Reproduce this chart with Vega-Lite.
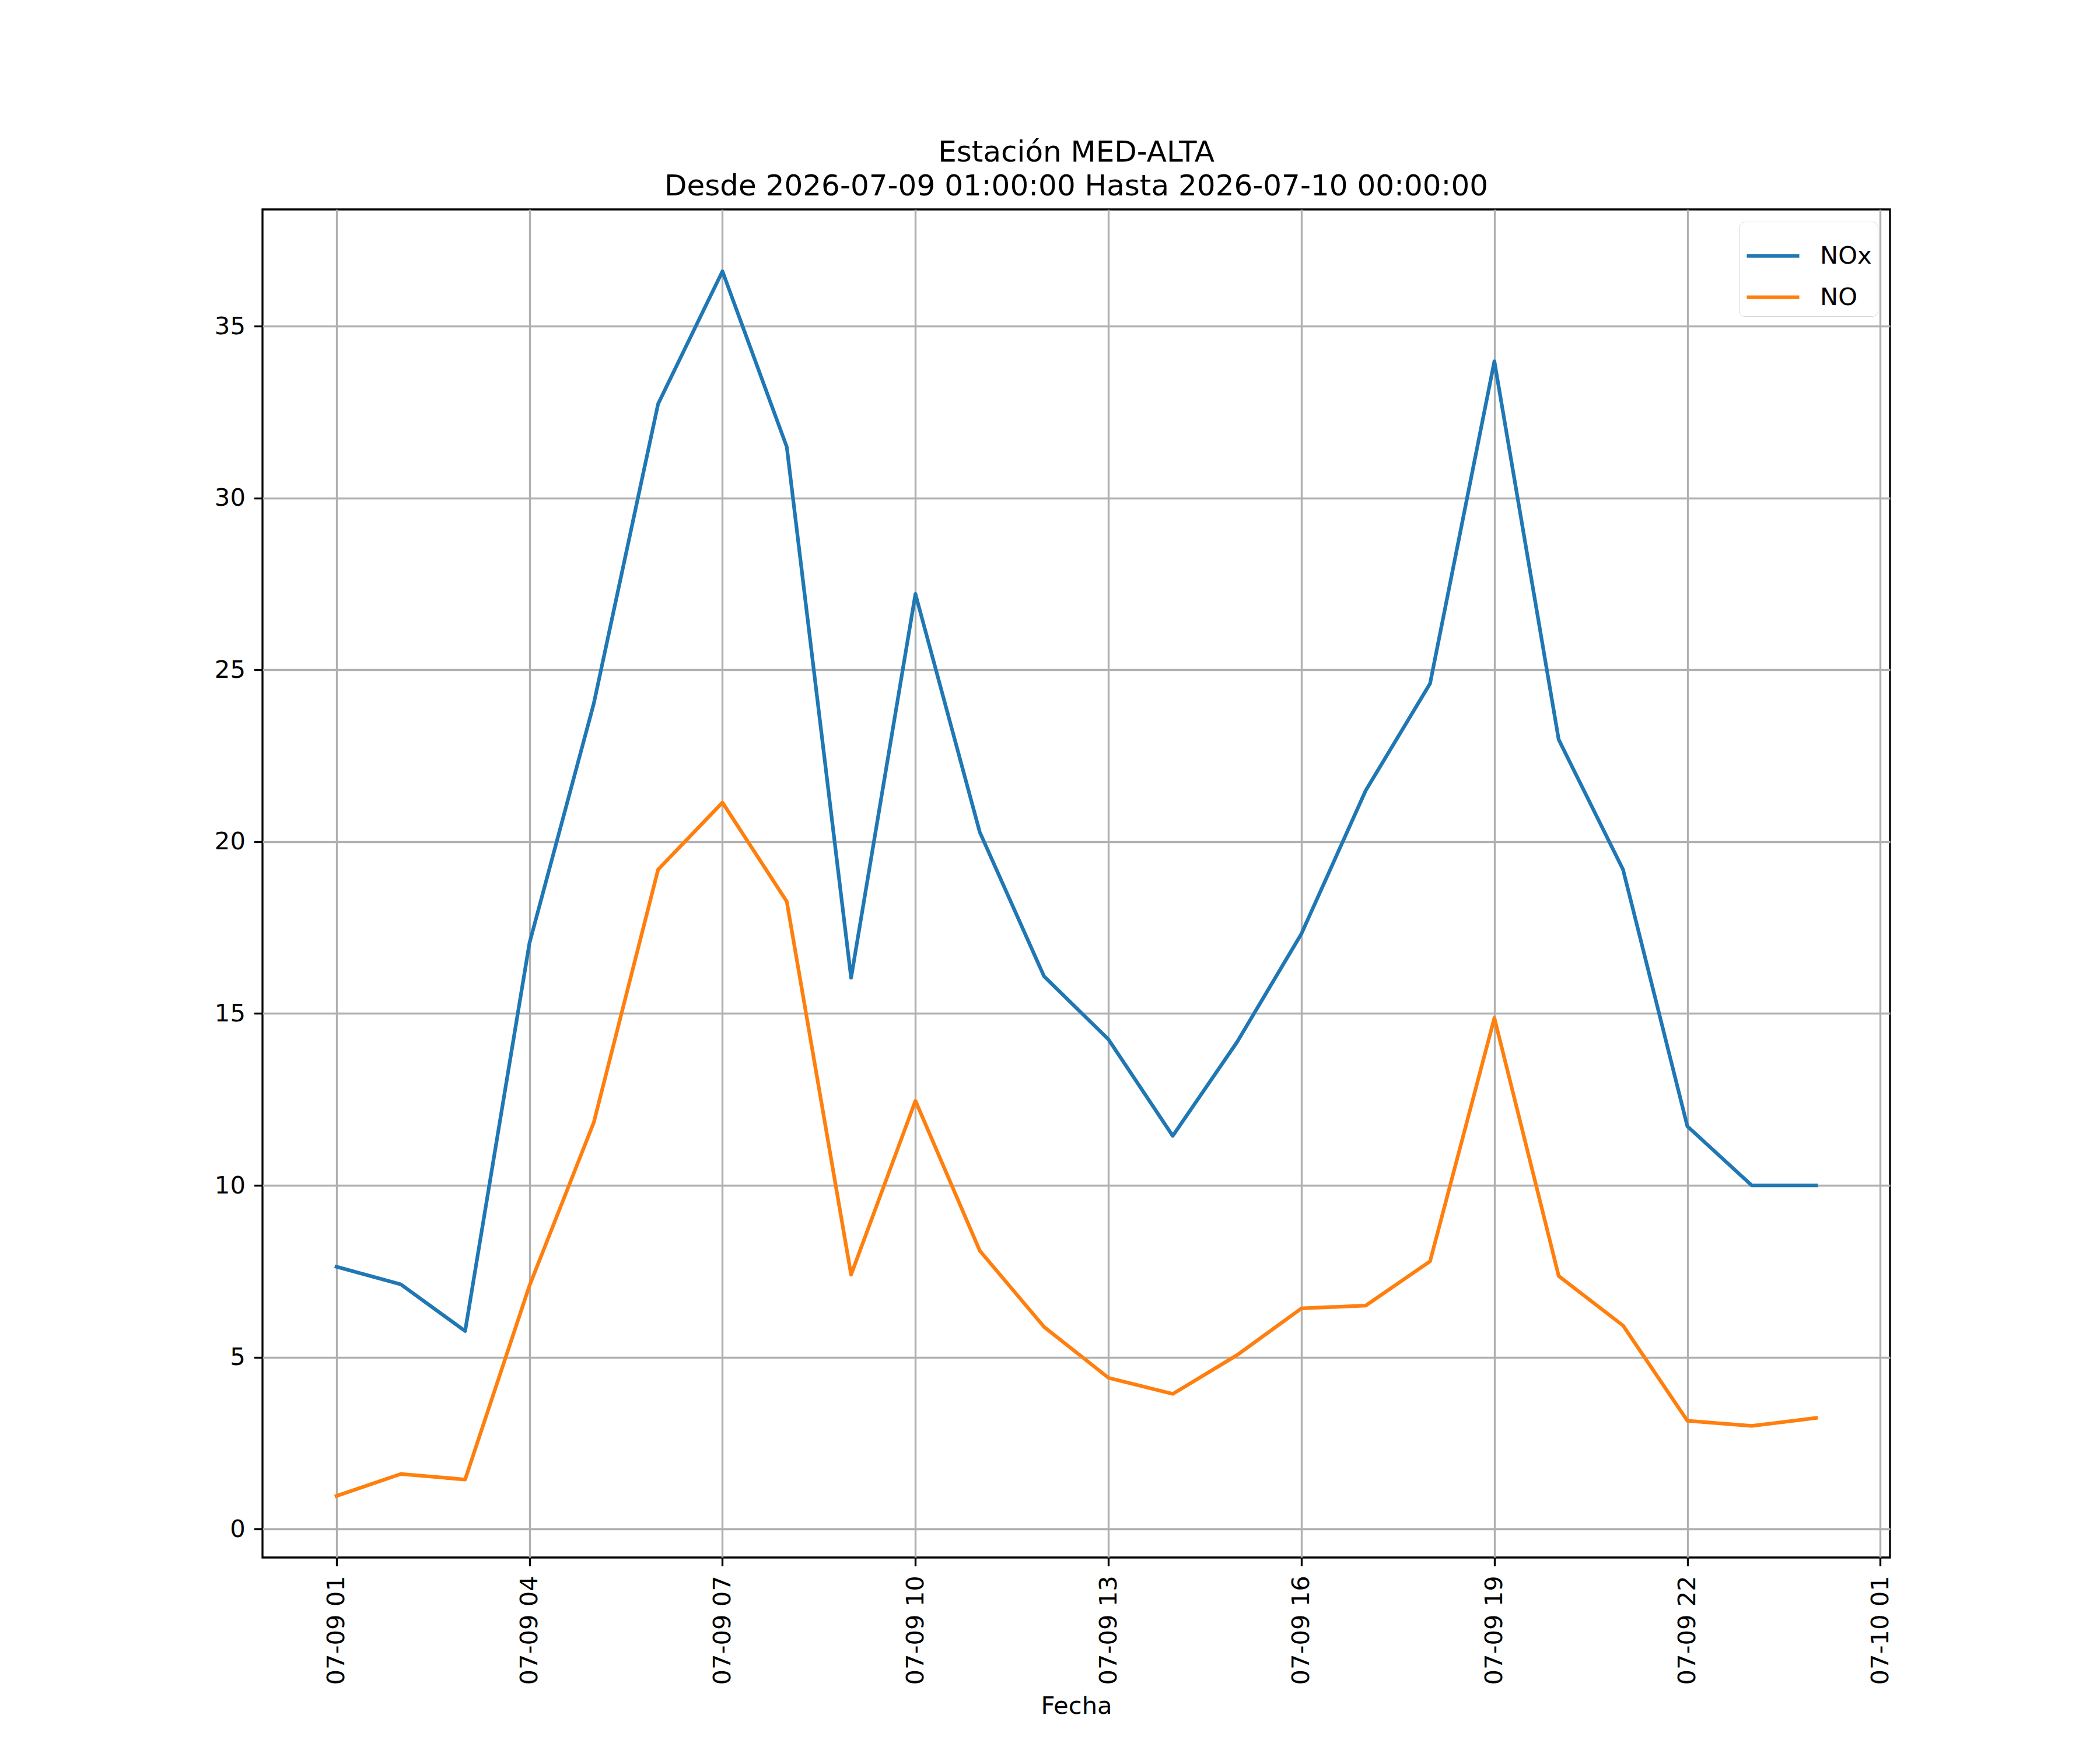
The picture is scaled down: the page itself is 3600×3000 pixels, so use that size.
{
  "$schema": "https://vega.github.io/schema/vega-lite/v6.json",
  "autosize": {"type": "none"},
  "width": 2790,
  "height": 2311,
  "padding": {"left": 450, "top": 359, "right": 360, "bottom": 330},
  "background": "white",
  "config": {
    "font": "DejaVu Sans",
    "view": {"stroke": "#000000", "strokeWidth": 3.33},
    "axis": {
      "domain": false,
      "grid": true,
      "gridColor": "#b0b0b0",
      "gridWidth": 3.33,
      "tickColor": "#000000",
      "tickWidth": 3.33,
      "tickSize": 14.6,
      "labelFont": "DejaVu Sans",
      "labelFontSize": 41.7,
      "labelColor": "#000000",
      "labelLimit": 0,
      "titleFont": "DejaVu Sans",
      "titleFontSize": 41.7,
      "titleFontWeight": "normal",
      "titleColor": "#000000"
    }
  },
  "title": {
    "text": ["Estación MED-ALTA", "Desde 2026-07-09 01:00:00 Hasta 2026-07-10 00:00:00"],
    "fontSize": 50,
    "fontWeight": "normal",
    "font": "DejaVu Sans",
    "color": "#000000",
    "anchor": "middle",
    "lineHeight": 58,
    "offset": 14
  },
  "data": {
    "values": [
      {"fecha": "2026-07-09T01:00:00", "serie": "NOx", "valor": 7.63},
      {"fecha": "2026-07-09T02:00:00", "serie": "NOx", "valor": 7.12},
      {"fecha": "2026-07-09T03:00:00", "serie": "NOx", "valor": 5.76},
      {"fecha": "2026-07-09T04:00:00", "serie": "NOx", "valor": 17.05},
      {"fecha": "2026-07-09T05:00:00", "serie": "NOx", "valor": 24.02},
      {"fecha": "2026-07-09T06:00:00", "serie": "NOx", "valor": 32.74},
      {"fecha": "2026-07-09T07:00:00", "serie": "NOx", "valor": 36.6},
      {"fecha": "2026-07-09T08:00:00", "serie": "NOx", "valor": 31.49},
      {"fecha": "2026-07-09T09:00:00", "serie": "NOx", "valor": 16.04},
      {"fecha": "2026-07-09T10:00:00", "serie": "NOx", "valor": 27.21},
      {"fecha": "2026-07-09T11:00:00", "serie": "NOx", "valor": 20.28},
      {"fecha": "2026-07-09T12:00:00", "serie": "NOx", "valor": 16.08},
      {"fecha": "2026-07-09T13:00:00", "serie": "NOx", "valor": 14.25},
      {"fecha": "2026-07-09T14:00:00", "serie": "NOx", "valor": 11.44},
      {"fecha": "2026-07-09T15:00:00", "serie": "NOx", "valor": 14.17},
      {"fecha": "2026-07-09T16:00:00", "serie": "NOx", "valor": 17.32},
      {"fecha": "2026-07-09T17:00:00", "serie": "NOx", "valor": 21.49},
      {"fecha": "2026-07-09T18:00:00", "serie": "NOx", "valor": 24.6},
      {"fecha": "2026-07-09T19:00:00", "serie": "NOx", "valor": 33.98},
      {"fecha": "2026-07-09T20:00:00", "serie": "NOx", "valor": 22.97},
      {"fecha": "2026-07-09T21:00:00", "serie": "NOx", "valor": 19.19},
      {"fecha": "2026-07-09T22:00:00", "serie": "NOx", "valor": 11.72},
      {"fecha": "2026-07-09T23:00:00", "serie": "NOx", "valor": 10.0},
      {"fecha": "2026-07-10T00:00:00", "serie": "NOx", "valor": 10.0},
      {"fecha": "2026-07-09T01:00:00", "serie": "NO", "valor": 0.96},
      {"fecha": "2026-07-09T02:00:00", "serie": "NO", "valor": 1.6},
      {"fecha": "2026-07-09T03:00:00", "serie": "NO", "valor": 1.44},
      {"fecha": "2026-07-09T04:00:00", "serie": "NO", "valor": 7.08},
      {"fecha": "2026-07-09T05:00:00", "serie": "NO", "valor": 11.83},
      {"fecha": "2026-07-09T06:00:00", "serie": "NO", "valor": 19.19},
      {"fecha": "2026-07-09T07:00:00", "serie": "NO", "valor": 21.14},
      {"fecha": "2026-07-09T08:00:00", "serie": "NO", "valor": 18.26},
      {"fecha": "2026-07-09T09:00:00", "serie": "NO", "valor": 7.4},
      {"fecha": "2026-07-09T10:00:00", "serie": "NO", "valor": 12.46},
      {"fecha": "2026-07-09T11:00:00", "serie": "NO", "valor": 8.1},
      {"fecha": "2026-07-09T12:00:00", "serie": "NO", "valor": 5.88},
      {"fecha": "2026-07-09T13:00:00", "serie": "NO", "valor": 4.4},
      {"fecha": "2026-07-09T14:00:00", "serie": "NO", "valor": 3.93},
      {"fecha": "2026-07-09T15:00:00", "serie": "NO", "valor": 5.06},
      {"fecha": "2026-07-09T16:00:00", "serie": "NO", "valor": 6.42},
      {"fecha": "2026-07-09T17:00:00", "serie": "NO", "valor": 6.5},
      {"fecha": "2026-07-09T18:00:00", "serie": "NO", "valor": 7.79},
      {"fecha": "2026-07-09T19:00:00", "serie": "NO", "valor": 14.87},
      {"fecha": "2026-07-09T20:00:00", "serie": "NO", "valor": 7.36},
      {"fecha": "2026-07-09T21:00:00", "serie": "NO", "valor": 5.92},
      {"fecha": "2026-07-09T22:00:00", "serie": "NO", "valor": 3.15},
      {"fecha": "2026-07-09T23:00:00", "serie": "NO", "valor": 3.0},
      {"fecha": "2026-07-10T00:00:00", "serie": "NO", "valor": 3.23}
    ]
  },
  "mark": {"type": "line", "strokeWidth": 6.25, "strokeCap": "square", "strokeJoin": "round"},
  "encoding": {
    "x": {
      "field": "fecha",
      "type": "temporal",
      "title": "Fecha",
      "scale": {
        "domain": [
          {"year": 2026, "month": 7, "date": 8, "hours": 23, "minutes": 51},
          {"year": 2026, "month": 7, "date": 10, "hours": 1, "minutes": 9}
        ],
        "nice": false
      },
      "axis": {
        "values": [
          {"year": 2026, "month": 7, "date": 9, "hours": 1},
          {"year": 2026, "month": 7, "date": 9, "hours": 4},
          {"year": 2026, "month": 7, "date": 9, "hours": 7},
          {"year": 2026, "month": 7, "date": 9, "hours": 10},
          {"year": 2026, "month": 7, "date": 9, "hours": 13},
          {"year": 2026, "month": 7, "date": 9, "hours": 16},
          {"year": 2026, "month": 7, "date": 9, "hours": 19},
          {"year": 2026, "month": 7, "date": 9, "hours": 22},
          {"year": 2026, "month": 7, "date": 10, "hours": 1}
        ],
        "format": "%m-%d %H",
        "labelAngle": 270,
        "labelAlign": "right",
        "labelBaseline": "middle",
        "labelPadding": 16,
        "titlePadding": 34
      }
    },
    "y": {
      "field": "valor",
      "type": "quantitative",
      "title": null,
      "scale": {"domain": [-0.83, 38.4], "nice": false, "zero": false},
      "axis": {"values": [0, 5, 10, 15, 20, 25, 30, 35], "labelPadding": 15}
    },
    "color": {
      "field": "serie",
      "type": "nominal",
      "sort": ["NOx", "NO"],
      "scale": {"domain": ["NOx", "NO"], "range": ["#1f77b4", "#ff7f0e"]},
      "legend": {
        "title": null,
        "orient": "top-right",
        "offset": 21,
        "symbolType": "M-1,0H1",
        "symbolStrokeWidth": 6.25,
        "symbolSize": 8100,
        "labelFontSize": 41.7,
        "labelFont": "DejaVu Sans",
        "labelColor": "#000000",
        "labelOffset": 32,
        "rowPadding": -9,
        "padding": 10,
        "fillColor": "rgba(255,255,255,0.8)",
        "strokeColor": "#d6d6d6",
        "cornerRadius": 10
      }
    }
  }
}
